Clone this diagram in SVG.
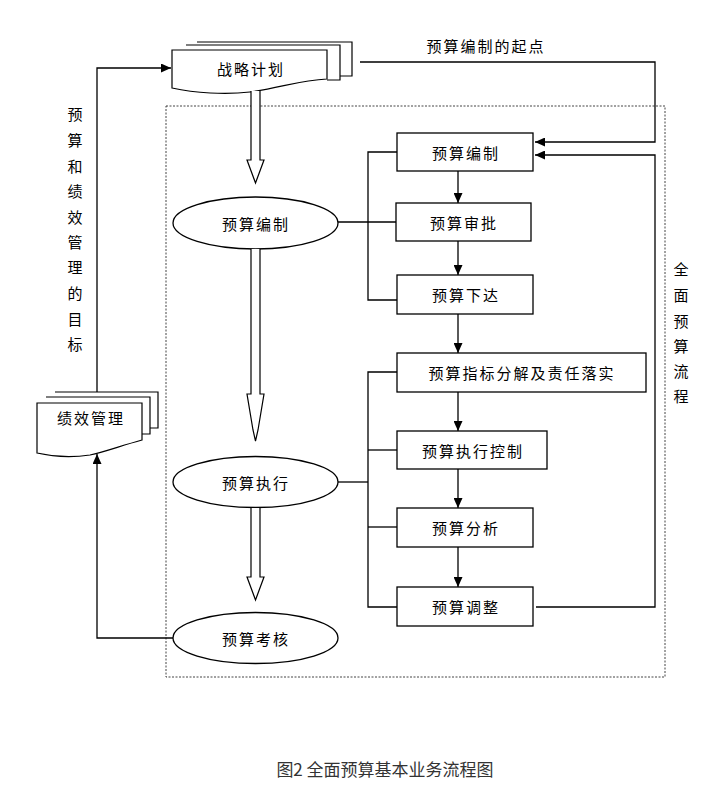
<svg xmlns="http://www.w3.org/2000/svg" width="712" height="793" viewBox="0 0 712 793">
<style>
.t{font-family:"Noto Sans CJK SC","Noto Sans",sans-serif;font-size:15px;fill:#000;letter-spacing:2px;text-anchor:middle;dominant-baseline:central}
.v{font-family:"Noto Sans CJK SC","Noto Sans",sans-serif;font-size:15px;fill:#000;text-anchor:middle;dominant-baseline:central}
.box{fill:#fff;stroke:#000;stroke-width:1.3}
.doc{fill:#fff;stroke:#000;stroke-width:1.2}
.ln{fill:none;stroke:#000;stroke-width:1.3}
.hol{fill:#fff;stroke:#000;stroke-width:1.2}
</style>
<defs>
<marker id="arr" markerUnits="userSpaceOnUse" markerWidth="10" markerHeight="9" refX="10" refY="4.5" orient="auto">
<path d="M0,0 L10,4.5 L0,9 Z" fill="#000"/>
</marker>
</defs>
<rect width="712" height="793" fill="#fff"/>
<rect x="166" y="106" width="499" height="571" fill="none" stroke="#444" stroke-width="1" stroke-dasharray="2,1.5"/>

<g id="strategy">
<path class="doc" d="M197,42 H352 V76 H340"/>
<path class="doc" d="M186,45 H340 V80 H327"/>
<path class="doc" d="M172,50 H327 V79 C300,80 280,88 250,92 C225,95 195,93 172,88 Z"/>
<text class="t" x="251" y="68">战略计划</text>
</g>

<g id="performance">
<path class="doc" d="M55,392 H158 V428 H150"/>
<path class="doc" d="M46,397 H150 V434 H142"/>
<path class="doc" d="M37,403 H142 V440 C120,446 105,452 90,455 C70,458 50,456 37,453 Z"/>
<text class="t" x="91" y="417">绩效管理</text>
</g>

<g id="e-bianzhi">
<ellipse class="box" cx="255.5" cy="223" rx="82.5" ry="26"/>
<text class="t" x="256" y="223">预算编制</text>
</g>
<g id="e-zhixing">
<ellipse class="box" cx="255.5" cy="482" rx="82.5" ry="25.5"/>
<text class="t" x="256" y="482">预算执行</text>
</g>
<g id="e-kaohe">
<ellipse class="box" cx="255.5" cy="638" rx="82.5" ry="25.5"/>
<text class="t" x="256" y="638">预算考核</text>
</g>

<g id="b1"><rect class="box" x="397" y="133" width="136" height="38"/><text class="t" x="466" y="152">预算编制</text></g>
<g id="b2"><rect class="box" x="396" y="203" width="135" height="38"/><text class="t" x="464" y="222">预算审批</text></g>
<g id="b3"><rect class="box" x="397" y="275" width="136" height="39"/><text class="t" x="466" y="294">预算下达</text></g>
<g id="b4"><rect class="box" x="397" y="353" width="249" height="39"/><text class="t" x="522" y="372">预算指标分解及责任落实</text></g>
<g id="b5"><rect class="box" x="397" y="431" width="150" height="38"/><text class="t" x="473" y="450">预算执行控制</text></g>
<g id="b6"><rect class="box" x="397" y="508" width="136" height="39"/><text class="t" x="466" y="527">预算分析</text></g>
<g id="b7"><rect class="box" x="397" y="587" width="136" height="39"/><text class="t" x="466" y="606">预算调整</text></g>

<g id="connectors">
<path class="hol" d="M251,91 V160 H247 L255.5,183 L264,160 H260 V91"/>
<path class="hol" d="M251,249 V394 H247 L253,430 L255.5,441 L258,430 L264,394 H260 V249"/>
<path class="hol" d="M251,508 V577 H247 L255.5,600 L264,577 H260 V508"/>

<path class="ln" d="M97,392 V68 H171" marker-end="url(#arr)"/>
<path class="ln" d="M173,638 H97 V454" marker-end="url(#arr)"/>
<path class="ln" d="M360,62 H655 V142 H535" marker-end="url(#arr)"/>
<path class="ln" d="M536,607 H655 V155 H535" marker-end="url(#arr)"/>

<path class="ln" d="M397,152 H368 V300 H397"/>
<path class="ln" d="M338,222 H396"/>
<path class="ln" d="M397,372 H368 V607 H397"/>
<path class="ln" d="M338,482 H368"/>
<path class="ln" d="M368,450 H397"/>
<path class="ln" d="M368,527 H397"/>

<path class="ln" d="M458,171 V203" marker-end="url(#arr)"/>
<path class="ln" d="M458,241 V275" marker-end="url(#arr)"/>
<path class="ln" d="M458,314 V353" marker-end="url(#arr)"/>
<path class="ln" d="M458,392 V431" marker-end="url(#arr)"/>
<path class="ln" d="M458,469 V508" marker-end="url(#arr)"/>
<path class="ln" d="M458,547 V587" stroke-width="2.2" marker-end="url(#arr)"/>
</g>

<g id="labels">
<text class="t" x="486" y="45">预算编制的起点</text>
<text class="v" x="75" y="113">预</text>
<text class="v" x="75" y="139">算</text>
<text class="v" x="75" y="165">和</text>
<text class="v" x="75" y="190">绩</text>
<text class="v" x="75" y="216">效</text>
<text class="v" x="75" y="241">管</text>
<text class="v" x="75" y="266">理</text>
<text class="v" x="75" y="292">的</text>
<text class="v" x="75" y="318">目</text>
<text class="v" x="75" y="343">标</text>
<text class="v" x="681" y="268">全</text>
<text class="v" x="681" y="294">面</text>
<text class="v" x="681" y="320">预</text>
<text class="v" x="681" y="345">算</text>
<text class="v" x="681" y="370">流</text>
<text class="v" x="681" y="395">程</text>
</g>

<text x="385" y="768" font-family="'Noto Sans CJK SC','Noto Sans',sans-serif" font-size="17" fill="#333" text-anchor="middle" dominant-baseline="central">图2 全面预算基本业务流程图</text>
</svg>
